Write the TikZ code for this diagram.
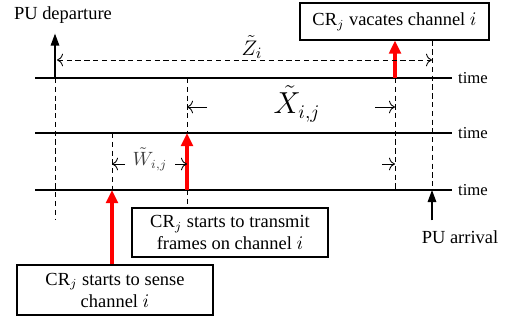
\documentclass[tikz,border=0pt]{standalone}
\usepackage{fontspec}
\setmainfont{Liberation Serif}
\usepackage{amsmath}
\usetikzlibrary{arrows.meta, positioning, calc}

\begin{document}
\begin{tikzpicture}[x=0.02cm, y=-0.02cm,
    evbox/.style={draw, line width=0.6pt, align=center, inner sep=0pt,
                  font=\fontsize{10.5}{12.5}\selectfont},
    tline/.style={line width=0.6pt},
    vdash/.style={line width=0.5pt, dash pattern=on 3pt off 2pt},
    redarrow/.style={red, line width=1.8pt, -{Triangle[length=2.6mm, width=2.3mm]}},
    puarrow/.style={line width=0.8pt, -{Triangle[length=2.4mm, width=1.7mm]}},
    dimarrow/.style={line width=0.5pt, -{To[length=1.2mm]}},
    timelbl/.style={anchor=west, inner sep=1pt, font=\fontsize{9.5}{11}\selectfont},
    plainlbl/.style={font=\fontsize{10.5}{12.5}\selectfont},
]
    \useasboundingbox (0,0) rectangle (513,325);

    % time axes
    \foreach \y/\n in {78/1, 133/2, 190/3} {
        \coordinate (w\n) at (35,\y);
        \coordinate (e\n) at (452,\y);
        \draw[tline] (w\n) -- (e\n);
        \node[timelbl] (time\n) at ($(e\n)+(4,0)$) {time};
    }

    % events
    \node[evbox, minimum width=3.78cm, minimum height=0.74cm] (vac) at (394.5,21.5)
        {CR$_j$ vacates channel $i$};
    \node[evbox, minimum width=3.92cm, minimum height=0.98cm] (tx) at (230,232.5)
        {CR$_j$ starts to transmit\\frames on channel $i$};
    \node[evbox, minimum width=3.92cm, minimum height=1.0cm] (sen) at (115,290)
        {CR$_j$ starts to sense\\channel $i$};
    \node[plainlbl] (dep) at (63,15) {PU departure};
    \node[plainlbl] (arr) at (460,237) {PU arrival};

    \coordinate (d1) at (55,78);
    \coordinate (d0) at (55,220);
    \coordinate (s2) at (112,133);
    \coordinate (s3) at (112,190);
    \coordinate (t1) at (187,78);
    \coordinate (t2) at (187,133);
    \coordinate (t3) at (187,190);
    \coordinate (v1) at (395,78);
    \coordinate (v3) at (395,190);
    \coordinate (a3) at (432,190);

    % PU departure / arrival
    \draw[puarrow] (d1) -- ($(dep.south -| d1)+(0,4)$);
    \draw[vdash] (d1) -- (d0);
    \draw[vdash] (vac.south -| a3) -- (a3);
    \draw[puarrow] ($(arr.north -| a3)+(0,-4)$) -- (a3);

    % CR events
    \draw[vdash] (s2) -- (s3);
    \draw[redarrow] (sen.north -| s3) -- (s3);
    \draw[vdash] (t1) -- (t2);
    \draw[vdash] (t3) -- (tx.north -| t3);
    \draw[redarrow] (t3) -- (t2);
    \draw[vdash] (v1) -- (v3);
    \draw[redarrow] (v1) -- (vac.south -| v1);

    % durations
    \coordinate (zl) at (57,60);
    \coordinate (zr) at (432,60);
    \draw[vdash, {To[length=1.2mm]}-{To[length=1.2mm]}] (zl) -- (zr);
    \node[font=\fontsize{12.5}{14}\selectfont] (zlbl) at (252,47) {$\tilde{Z}_i$};

    \draw[dimarrow] (207,107) -- (187,107);
    \draw[dimarrow] (375,107) -- (v1 |- 0,107);
    \node[font=\fontsize{16}{18}\selectfont] (xlbl) at (297,104) {$\tilde{X}_{i,j}$};

    \draw[dimarrow] (125,164) -- (112,164);
    \draw[dimarrow] (175,164) -- (187,164);
    \draw[dimarrow] (382,164) -- (395,164);
    \node[font=\fontsize{10.5}{12}\selectfont, black!75] (wlbl) at (150,159) {$\tilde{W}_{i,j}$};
\end{tikzpicture}
\end{document}
